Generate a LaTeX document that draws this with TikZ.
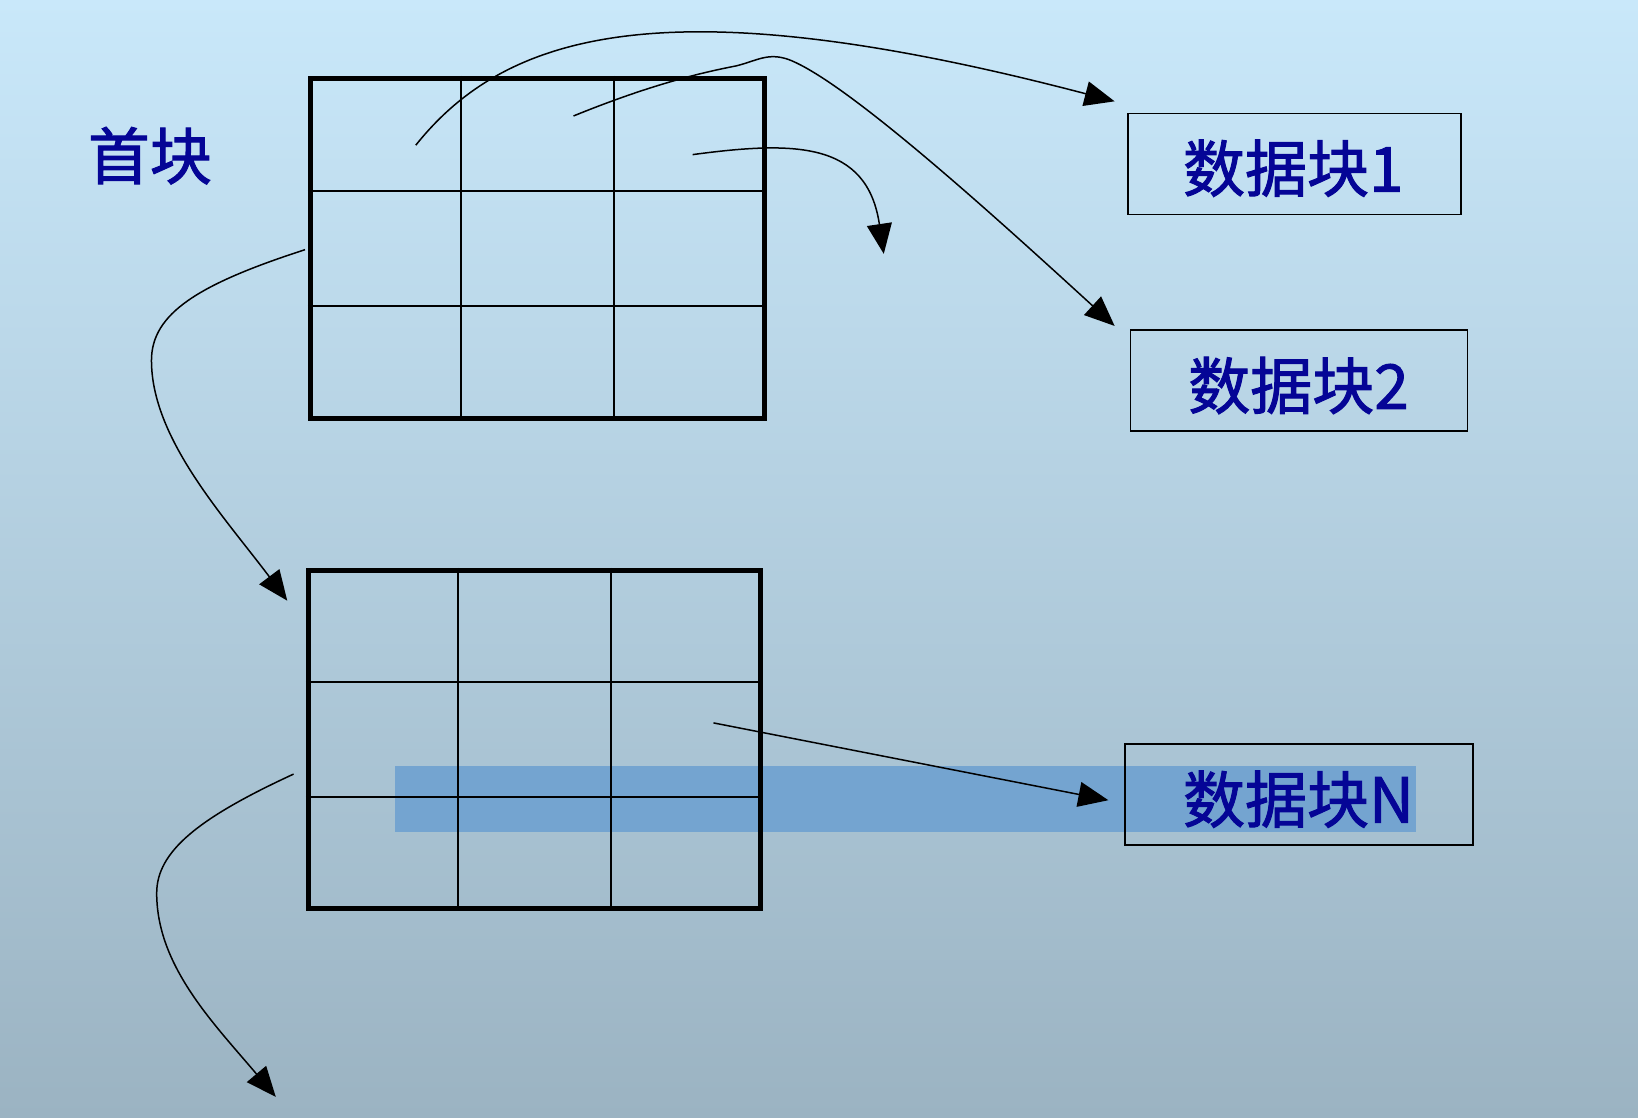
\documentclass[tikz,border=0pt]{standalone}
\usepackage{fontspec}
\newfontfamily\cjk[FakeBold=1.6]{Noto Sans CJK SC}
\usetikzlibrary{arrows.meta,calc}
\definecolor{bgtop}{RGB}{201,232,250}
\definecolor{bgbot}{RGB}{155,179,194}
\definecolor{band}{RGB}{116,164,208}
\definecolor{txtblue}{RGB}{5,5,150}
\begin{document}
\begin{tikzpicture}[x=1.0447pt,y=-1.0447pt,
  lbl/.style={font=\cjk\fontsize{62}{62}\selectfont, text=txtblue, inner sep=0pt},
  dbox/.style={draw=black, line width=1.8pt, inner sep=0pt, minimum height=101pt},
  gridbox/.style={draw=black, line width=5pt, inner sep=0pt},
  gline/.style={line width=2pt},
  conn/.style={line width=1.5pt, -{Triangle[length=30pt,width=25pt]}},
]
% background
\shade[top color=bgtop, bottom color=bgbot] (0,0) rectangle (1568,1070);
\useasboundingbox (0,0) rectangle (1568,1070);
% highlight band
\fill[band] (378,733) rectangle (1355,796);

% top grid
\node[gridbox, minimum width=454pt, minimum height=340.5pt] (top) at (514.5,238) {};
\foreach \f in {1/3,2/3}{
  \draw[gline] ($(top.north west)!\f!(top.north east)$) -- ($(top.south west)!\f!(top.south east)$);
  \draw[gline] ($(top.north west)!\f!(top.south west)$) -- ($(top.north east)!\f!(top.south east)$);
}
% bottom grid
\node[gridbox, minimum width=452pt, minimum height=338.5pt] (bot) at (511.5,708) {};
\foreach \f in {1/3,2/3}{
  \draw[gline] ($(bot.north west)!\f!(bot.north east)$) -- ($(bot.south west)!\f!(bot.south east)$);
  \draw[gline] ($(bot.north west)!\f!(bot.south west)$) -- ($(bot.north east)!\f!(bot.south east)$);
}

% labels and data boxes
\node[lbl] (head) at (143.5,149) {首块};
\node[dbox, minimum width=333pt] (d1) at (1239.5,157) {};
\node[lbl] (t1) at (1238,161) {数据块1};
\node[dbox, minimum width=337pt] (d2) at (1243.5,364.5) {};
\node[lbl] (t2) at (1243,369) {数据块2};
\node[dbox, minimum width=348pt] (dn) at (1243.5,760.5) {};
\node[lbl] (tn) at (1243,765) {数据块N};

% connector end points
\coordinate (s1) at (398,139);
\coordinate (e1) at (1067,97);
\coordinate (s2) at (549,111);
\coordinate (e2) at (1067,312);
\coordinate (s3) at (663,148);
\coordinate (e3) at (846,243);
\coordinate (s4) at (292,239);
\coordinate (e4) at (275,575);
\coordinate (s5) at (281,741);
\coordinate (e5) at (264,1050);
\coordinate (s6) at (683,692);
\coordinate (e6) at (1061,766);

% connectors
\draw[conn] (s1) .. controls (485,30) and (640,-15) .. (e1);
\draw[conn] (s2) .. controls (630,78) and (680,68) .. (705,63)
                 .. controls (725,58) and (735,50) .. (755,57)
                 .. controls (810,78) and (950,205) .. (e2);
\draw[conn] (s3) .. controls (760,135) and (830,135) .. (e3);
\draw[conn] (s4) .. controls (190,272) and (145,300) .. (145,345)
                 .. controls (145,420) and (215,495) .. (e4);
\draw[conn] (s5) .. controls (190,783) and (150,815) .. (150,855)
                 .. controls (150,925) and (205,980) .. (e5);
\draw[conn] (s6) -- (e6);
\end{tikzpicture}
\end{document}
